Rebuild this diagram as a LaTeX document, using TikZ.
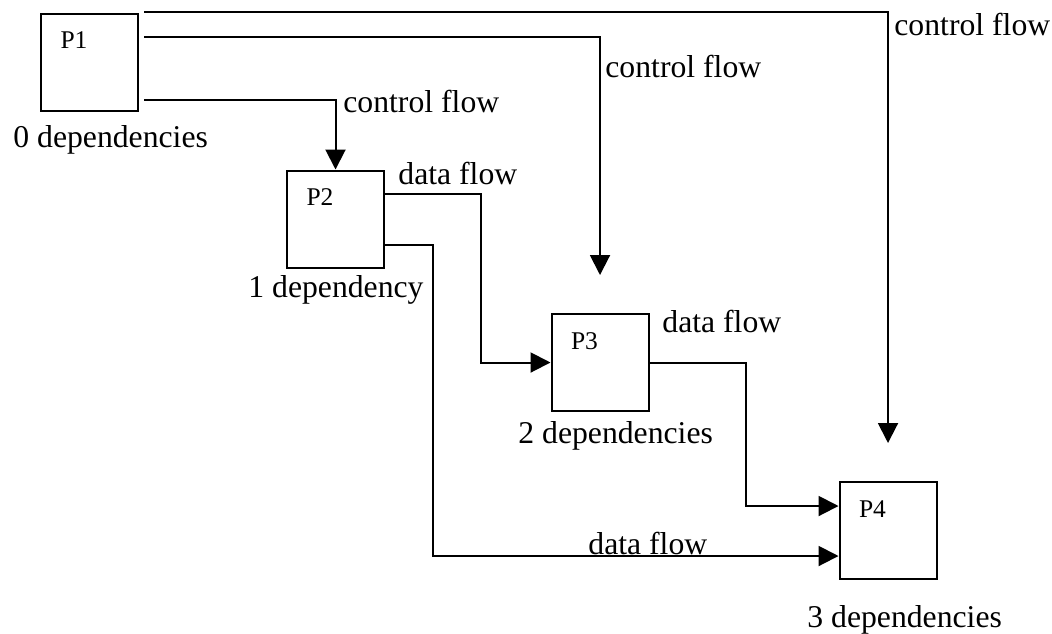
\documentclass[tikz,border=0pt]{standalone}
\usepackage{fontspec}
\setmainfont{Liberation Serif}
\usepackage{tikz}
\usetikzlibrary{
    arrows.meta,
    calc,
    positioning
}

\begin{document}
\begin{tikzpicture}[x=0.5pt, y=0.5pt,
    procbox/.style={draw, line width=1pt, minimum width=48.5pt, minimum height=48.5pt, inner sep=0pt},
    procname/.style={font=\fontsize{12.75pt}{15pt}\selectfont, inner sep=0pt},
    note/.style={font=\fontsize{15.85pt}{19pt}\selectfont, inner sep=0pt, anchor=base west},
    flow/.style={line width=1pt, -{Triangle[width=10pt, length=10pt]}},
    wire/.style={line width=1pt}
]
                        \useasboundingbox (0, 0) rectangle (1052, -633);
                        % processes
                        \node[procbox] (p1) at (89.5, -62) {};
                        \node[procbox] (p2) at (335.5, -219) {};
                        \node[procbox] (p3) at (600, -362.5) {};
                        \node[procbox] (p4) at (888, -530.5) {};
                        \node[procname] (p1name) at ($(p1.north west)+(34, -28)$) {P1};
                        \node[procname] (p2name) at ($(p2.north west)+(34, -28)$) {P2};
                        \node[procname] (p3name) at ($(p3.north west)+(34, -28)$) {P3};
                        \node[procname] (p4name) at ($(p4.north west)+(34, -28)$) {P4};
                        % ends of the connectors
                        \coordinate (p1out1) at ($(p1.north east)+(5, 1)$);
                        \coordinate (p1out2) at ($(p1.north east)+(5, -24)$);
                        \coordinate (p1out3) at ($(p1.south east)+(5, 12)$);
                        \coordinate (p2out1) at ($(p2.north east)+(0, -24)$);
                        \coordinate (p2out2) at ($(p2.south east)+(0, 24)$);
                        \coordinate (p3top) at ($(p3.north)+(0, 38)$);
                        \coordinate (p4top) at ($(p4.north)+(0, 38)$);
                        \coordinate (p4in1) at ($(p4.north west)+(0, -25)$);
                        \coordinate (p4in2) at ($(p4.south west)+(0, 24)$);
                        % control flow
                        \draw[flow] (p1out1) -| (p4top);
                        \draw[flow] (p1out2) -| (p3top);
                        \draw[flow] (p1out3) -| (p2.north);
                        % data flow
                        \draw[flow] (p2out1) -- ++(96, 0) |- (p3.west);
                        \draw[flow] (p2out2) -- ++(48, 0) |- (p4in2);
                        \draw[flow] (p3.east) -- ++(96, 0) |- (p4in1);
                        % labels
                        \node[note] (dep0) at (13, -147) {0 dependencies};
                        \node[note] (dep1) at (248, -297) {1 dependency};
                        \node[note] (dep2) at (518, -443) {2 dependencies};
                        \node[note] (dep3) at (807, -627) {3 dependencies};
                        \node[note] (cf1) at (343, -112) {control flow};
                        \node[note] (cf2) at (605, -77) {control flow};
                        \node[note] (cf3) at (894, -35) {control flow};
                        \node[note] (df1) at (398, -184) {data flow};
                        \node[note] (df2) at (662, -332) {data flow};
                        \node[note] (df3) at (588, -554) {data flow};
                    \end{tikzpicture}
\end{document}
